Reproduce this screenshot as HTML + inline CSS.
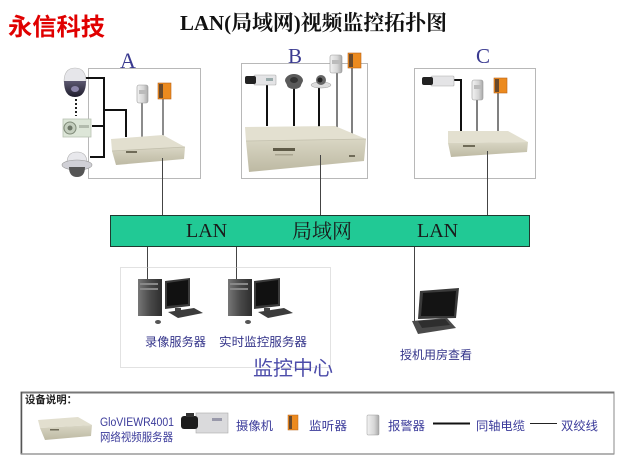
<!DOCTYPE html>
<html><head><meta charset="utf-8"><style>
html,body{margin:0;padding:0;background:#fff;}
svg{display:block;}
</style></head><body>
<svg width="629" height="472" viewBox="0 0 629 472" xmlns="http://www.w3.org/2000/svg">
<defs>
<linearGradient id="alarm" x1="0" x2="1" y1="0" y2="0"><stop offset="0" stop-color="#f2f2f2"/><stop offset="0.6" stop-color="#d6d6d6"/><stop offset="1" stop-color="#a8a8a8"/></linearGradient>
<linearGradient id="tower" x1="0" x2="1" y1="0" y2="0"><stop offset="0" stop-color="#777"/><stop offset="0.5" stop-color="#4a4a4a"/><stop offset="1" stop-color="#2e2e2e"/></linearGradient>
<linearGradient id="front" x1="0" x2="0" y1="0" y2="1"><stop offset="0" stop-color="#d9d6c4"/><stop offset="1" stop-color="#bdb9a3"/></linearGradient>
<linearGradient id="dome" x1="0" x2="0" y1="0" y2="1"><stop offset="0" stop-color="#5c5870"/><stop offset="1" stop-color="#1e1c2c"/></linearGradient>
</defs>

<!-- Titles -->
<text x="8" y="35" font-family="'Liberation Sans','Noto Sans CJK SC',sans-serif" font-size="24" font-weight="bold" fill="#e00000" textLength="97" lengthAdjust="spacingAndGlyphs">永信科技</text>
<text x="180" y="30" font-family="'Liberation Serif','Noto Serif CJK SC',serif" font-size="21" font-weight="bold" fill="#111" textLength="267" lengthAdjust="spacingAndGlyphs">LAN(局域网)视频监控拓扑图</text>

<!-- Group boxes -->
<rect x="88.5" y="68.5" width="112" height="110" fill="none" stroke="#b8b8b8" stroke-width="1"/>
<rect x="241.5" y="63.5" width="126" height="115" fill="none" stroke="#b8b8b8" stroke-width="1"/>
<rect x="414.5" y="68.5" width="121" height="110" fill="none" stroke="#b8b8b8" stroke-width="1"/>

<text x="120" y="68" font-family="'Liberation Serif',serif" font-size="22" fill="#3a3a90">A</text>
<text x="288" y="63" font-family="'Liberation Serif',serif" font-size="21" fill="#3a3a90">B</text>
<text x="476" y="63" font-family="'Liberation Serif',serif" font-size="21" fill="#3a3a90">C</text>

<!-- ===== Group A ===== -->
<g stroke="#111" stroke-width="2" fill="none">
<polyline points="84,78 104,78 104,157 90,157"/>
<line x1="92" y1="126" x2="104" y2="126"/>
<polyline points="104,110 126,110 126,137"/>
</g>
<line x1="76" y1="99" x2="76" y2="116" stroke="#222" stroke-width="2" stroke-dasharray="2,2"/>
<!-- dome camera -->
<path d="M64,82 Q64,68 75,68 Q86,68 86,82 Z" fill="#e6e6ea" stroke="#bbb" stroke-width="0.6"/>
<path d="M64,81 Q64,97 75,97 Q86,97 86,81 Z" fill="url(#dome)"/>
<ellipse cx="75" cy="89" rx="4" ry="3" fill="#8a84a8"/>
<!-- box camera -->
<rect x="63" y="119" width="28" height="18" fill="#dde6d8" stroke="#b9c2b3" stroke-width="0.8"/>
<circle cx="70" cy="128" r="6" fill="#c5cfbf" stroke="#7f8a78" stroke-width="1"/>
<circle cx="70" cy="128" r="2.5" fill="#6e7768"/>
<rect x="79" y="125" width="10" height="3" fill="#b3bcae"/>
<!-- ceiling dome -->
<path d="M67,163 Q67,152 77,152 Q87,152 87,163 Z" fill="#e8e8ec" stroke="#aaa" stroke-width="0.6"/>
<ellipse cx="77" cy="165" rx="15" ry="5" fill="#d0d0d6" stroke="#999" stroke-width="0.6"/>
<path d="M69,167 Q69,177 77,177 Q85,177 85,167 Z" fill="#555"/>
<!-- gray lines to sensors -->
<g stroke="#666" stroke-width="1.5">
<line x1="142" y1="103" x2="142" y2="138"/>
<line x1="163" y1="99" x2="163" y2="137"/>
</g>
<rect x="137" y="85" width="11" height="18" rx="2" fill="url(#alarm)" stroke="#999" stroke-width="0.6"/>
<rect x="139" y="90" width="7" height="4" fill="#bbb"/>
<rect x="158" y="83" width="13" height="16" fill="#ec8a1e" stroke="#b8651a" stroke-width="0.6"/>
<rect x="159" y="84" width="4" height="14" fill="#6a4a2c"/>
<!-- server A -->
<polygon points="111,139 163,135 185,147 112,151" fill="#e2dfcf"/>
<polygon points="112,151 185,147 184,159 116,165" fill="url(#front)"/>
<line x1="112" y1="151" x2="185" y2="147" stroke="#c2bfac" stroke-width="0.8"/>
<rect x="126" y="151" width="11" height="2" fill="#6f6b58"/>

<!-- ===== Group B ===== -->
<g stroke="#111" stroke-width="2">
<line x1="267" y1="85" x2="267" y2="126"/>
<line x1="294" y1="86" x2="294" y2="126"/>
<line x1="319" y1="87" x2="319" y2="127"/>
</g>
<g stroke="#555" stroke-width="1.5">
<line x1="337" y1="73" x2="337" y2="131"/>
<line x1="352" y1="67" x2="352" y2="137"/>
</g>
<rect x="254" y="75" width="22" height="10" rx="1" fill="#e4e4e6" stroke="#aaa" stroke-width="0.6"/>
<rect x="245" y="76" width="11" height="8" rx="2" fill="#222"/>
<rect x="266" y="78" width="7" height="3" fill="#9aa"/>
<path d="M285,81 A9,7 0 0 1 303,81 L301,85 A7,4 0 0 1 287,85 Z" fill="#5a5a5a"/>
<ellipse cx="294" cy="80" rx="4" ry="3" fill="#333"/>
<ellipse cx="321" cy="85" rx="10" ry="3" fill="#ddd" stroke="#999" stroke-width="0.5"/>
<circle cx="321" cy="80" r="5" fill="#666"/>
<circle cx="320" cy="80" r="2.5" fill="#222"/>
<rect x="330" y="55" width="12" height="18" rx="2" fill="url(#alarm)" stroke="#999" stroke-width="0.6"/>
<rect x="332" y="60" width="8" height="4" fill="#bbb"/>
<rect x="348" y="53" width="13" height="15" fill="#ec8a1e" stroke="#b8651a" stroke-width="0.6"/>
<rect x="349" y="54" width="4" height="13" fill="#6a4a2c"/>
<polygon points="245,127 335,126 366,139 246,141" fill="#e3e0d0"/>
<polygon points="246,141 366,139 364,161 249,172" fill="url(#front)"/>
<line x1="246" y1="141" x2="366" y2="139" stroke="#c2bfac" stroke-width="0.8"/>
<rect x="273" y="148" width="22" height="3" fill="#5f5b48"/>
<rect x="275" y="154" width="18" height="1.5" fill="#a9a590"/>
<rect x="349" y="155" width="6" height="2" fill="#6f6b58"/>

<!-- ===== Group C ===== -->
<polyline points="453,80 461,80 461,131" stroke="#111" stroke-width="2" fill="none"/>
<g stroke="#555" stroke-width="1.5">
<line x1="477" y1="100" x2="477" y2="131"/>
<line x1="498" y1="93" x2="498" y2="131"/>
</g>
<rect x="431" y="76" width="23" height="10" rx="1" fill="#e4e4e6" stroke="#aaa" stroke-width="0.6"/>
<rect x="422" y="77" width="11" height="8" rx="2" fill="#222"/>
<rect x="472" y="80" width="11" height="20" rx="2" fill="url(#alarm)" stroke="#999" stroke-width="0.6"/>
<rect x="474" y="85" width="7" height="4" fill="#bbb"/>
<rect x="494" y="78" width="13" height="15" fill="#ec8a1e" stroke="#b8651a" stroke-width="0.6"/>
<rect x="495" y="79" width="4" height="13" fill="#6a4a2c"/>
<polygon points="448,131 508,131 528,142 448,143" fill="#e3e0d0"/>
<polygon points="448,143 528,142 527,152 451,157" fill="url(#front)"/>
<rect x="463" y="145" width="12" height="2" fill="#6f6b58"/>

<!-- Vertical links -->
<g stroke="#444" stroke-width="1">
<line x1="162.5" y1="158" x2="162.5" y2="215"/>
<line x1="320.5" y1="155" x2="320.5" y2="215"/>
<line x1="487.5" y1="151" x2="487.5" y2="215"/>
<line x1="147.5" y1="247" x2="147.5" y2="284"/>
<line x1="236.5" y1="247" x2="236.5" y2="284"/>
<line x1="414.5" y1="247" x2="414.5" y2="322"/>
</g>

<!-- LAN bar -->
<rect x="110.5" y="215.5" width="419" height="31" fill="#21c995" stroke="#1f3a30" stroke-width="1"/>
<text x="186" y="237" font-family="'Liberation Serif',serif" font-size="20" fill="#1a1a1a">LAN</text>
<text x="292" y="238" font-family="'Liberation Serif','Noto Serif CJK SC',serif" font-size="20" fill="#1a1a1a">局域网</text>
<text x="417" y="237" font-family="'Liberation Serif',serif" font-size="20" fill="#1a1a1a">LAN</text>

<rect x="120.5" y="267.5" width="210" height="100" fill="none" stroke="#c4c4c4" stroke-width="1" stroke-dasharray="1,1"/>

<!-- computer 1 -->
<g>
<rect x="138" y="279" width="24" height="37" fill="url(#tower)"/>
<rect x="140" y="283" width="18" height="2" fill="#888"/>
<rect x="140" y="288" width="18" height="2" fill="#888"/>
<polygon points="165,281 190,278 190,306 165,309" fill="#3a3a3a"/>
<polygon points="167,283 188,280 188,304 167,306" fill="#111"/>
<rect x="175" y="308" width="6" height="3" fill="#444"/>
<polygon points="168,312 194,308 203,313 178,318" fill="#3c3c3c"/>
<ellipse cx="158" cy="322" rx="3" ry="2" fill="#555"/>
</g>
<!-- computer 2 -->
<g>
<rect x="228" y="279" width="24" height="37" fill="url(#tower)"/>
<rect x="230" y="283" width="18" height="2" fill="#888"/>
<rect x="230" y="288" width="18" height="2" fill="#888"/>
<polygon points="254,281 280,278 280,306 254,309" fill="#3a3a3a"/>
<polygon points="256,283 278,280 278,304 256,306" fill="#111"/>
<rect x="264" y="308" width="6" height="3" fill="#444"/>
<polygon points="258,312 284,308 293,313 268,318" fill="#3c3c3c"/>
<ellipse cx="248" cy="322" rx="3" ry="2" fill="#555"/>
</g>
<!-- laptop -->
<polygon points="420,291 459,288 456,318 418,319" fill="#3a3a3a"/>
<polygon points="423,293 456,291 454,316 421,316" fill="#141414"/>
<polygon points="412,321 447,318 456,328 418,334" fill="#4a4a4a"/>
<polygon points="418,321 445,319 450,325 422,328" fill="#2e2e2e"/>

<g font-family="'Liberation Sans','Noto Sans CJK SC',sans-serif" fill="#34348a">
<text x="145" y="346" font-size="12" textLength="61" lengthAdjust="spacingAndGlyphs">录像服务器</text>
<text x="219" y="346" font-size="12" textLength="88" lengthAdjust="spacingAndGlyphs">实时监控服务器</text>
<text x="400" y="359" font-size="12" textLength="72" lengthAdjust="spacingAndGlyphs">授机用房查看</text>
<text x="253" y="375" font-size="20" fill="#4d4daa" textLength="80" lengthAdjust="spacingAndGlyphs">监控中心</text>
</g>

<!-- Legend -->
<rect x="21" y="392" width="593" height="62" fill="#fff" stroke="#888" stroke-width="1"/>
<line x1="21" y1="392.5" x2="614" y2="392.5" stroke="#777" stroke-width="2"/>
<line x1="21.5" y1="392" x2="21.5" y2="454" stroke="#555" stroke-width="1.5"/>
<line x1="21" y1="454" x2="614" y2="454" stroke="#9a9a9a" stroke-width="1.5"/>
<text x="25" y="403" font-family="'Liberation Sans','Noto Sans CJK SC',sans-serif" font-size="10.5" font-weight="bold" fill="#222" textLength="52" lengthAdjust="spacingAndGlyphs">设备说明：</text>

<polygon points="38,420 78,417 92,425 40,428" fill="#e2dfcf"/>
<polygon points="40,428 92,425 91,436 45,440" fill="url(#front)"/>
<rect x="50" y="429" width="9" height="1.5" fill="#6f6b58"/>
<g font-family="'Liberation Sans','Noto Sans CJK SC',sans-serif" fill="#3a3a9a">
<text x="100" y="426" font-size="11.5" textLength="74" lengthAdjust="spacingAndGlyphs">GloVIEWR4001</text>
<text x="100" y="441" font-size="11.5" textLength="73" lengthAdjust="spacingAndGlyphs">网络视频服务器</text>
<text x="236" y="430" font-size="12" textLength="37" lengthAdjust="spacingAndGlyphs">摄像机</text>
<text x="309" y="430" font-size="12" textLength="38" lengthAdjust="spacingAndGlyphs">监听器</text>
<text x="388" y="430" font-size="12" textLength="37" lengthAdjust="spacingAndGlyphs">报警器</text>
<text x="476" y="430" font-size="12" textLength="49" lengthAdjust="spacingAndGlyphs">同轴电缆</text>
<text x="561" y="430" font-size="12" textLength="37" lengthAdjust="spacingAndGlyphs">双绞线</text>
</g>
<rect x="196" y="413" width="32" height="20" fill="#dadadc" stroke="#aaa" stroke-width="0.6"/>
<rect x="181" y="416" width="17" height="13" rx="3" fill="#1c1c1c"/>
<rect x="186" y="413" width="8" height="4" fill="#333"/>
<rect x="212" y="418" width="10" height="3" fill="#99a"/>
<rect x="288" y="415" width="10" height="15" fill="#ec8a1e" stroke="#b8651a" stroke-width="0.5"/>
<rect x="289" y="416" width="3" height="13" fill="#6a4a2c"/>
<rect x="367" y="415" width="12" height="20" rx="1" fill="url(#alarm)" stroke="#999" stroke-width="0.5"/>
<line x1="433" y1="423.5" x2="470" y2="423.5" stroke="#111" stroke-width="2"/>
<line x1="530" y1="423.5" x2="557" y2="423.5" stroke="#222" stroke-width="1"/>
</svg>
</body></html>
